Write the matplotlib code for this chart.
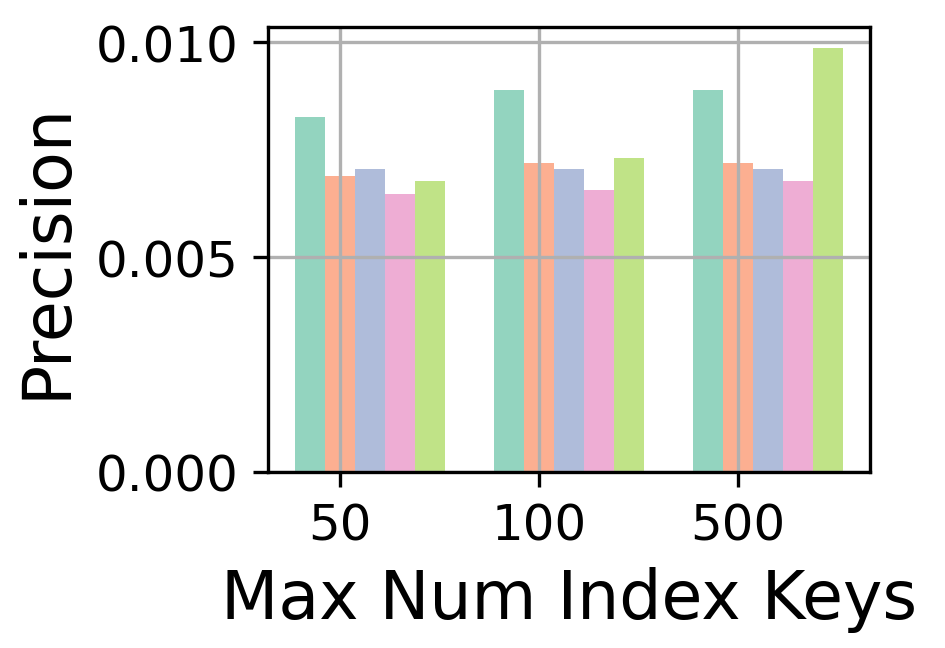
import numpy as np
import matplotlib
matplotlib.use("Agg")
import matplotlib.pyplot as plt

# values
keys = ["50", "100", "500"]
series_a = [0.00825, 0.00889, 0.00889]
series_b = [0.00688, 0.00719, 0.00719]
series_c = [0.00706, 0.00706, 0.00706]
series_d = [0.00648, 0.00656, 0.00676]
series_e = [0.00677, 0.00731, 0.00986]
series = [series_a, series_b, series_c, series_d, series_e]

colors = plt.get_cmap("Set2").colors[:5]


def draw_plot():
    fig = plt.figure(figsize=(3.15, 2.163), dpi=300)
    ax = fig.add_axes([0.2836, 0.2712, 0.637, 0.6857])
    x = np.arange(len(keys))
    width = 0.15
    for i, vals in enumerate(series):
        ax.bar(x + (i - 1) * width, vals, width, color=colors[i], alpha=0.7)
    ax.set_xticks(x)
    ax.set_xticklabels(keys)
    ax.set_yticks([0.0, 0.005, 0.010])
    ax.tick_params(labelsize=12)
    ax.set_xlabel("Max Num Index Keys", fontsize=16)
    ax.set_ylabel("Precision", fontsize=16)
    ax.grid()
    fig.savefig("out.png", dpi=300)


draw_plot()
